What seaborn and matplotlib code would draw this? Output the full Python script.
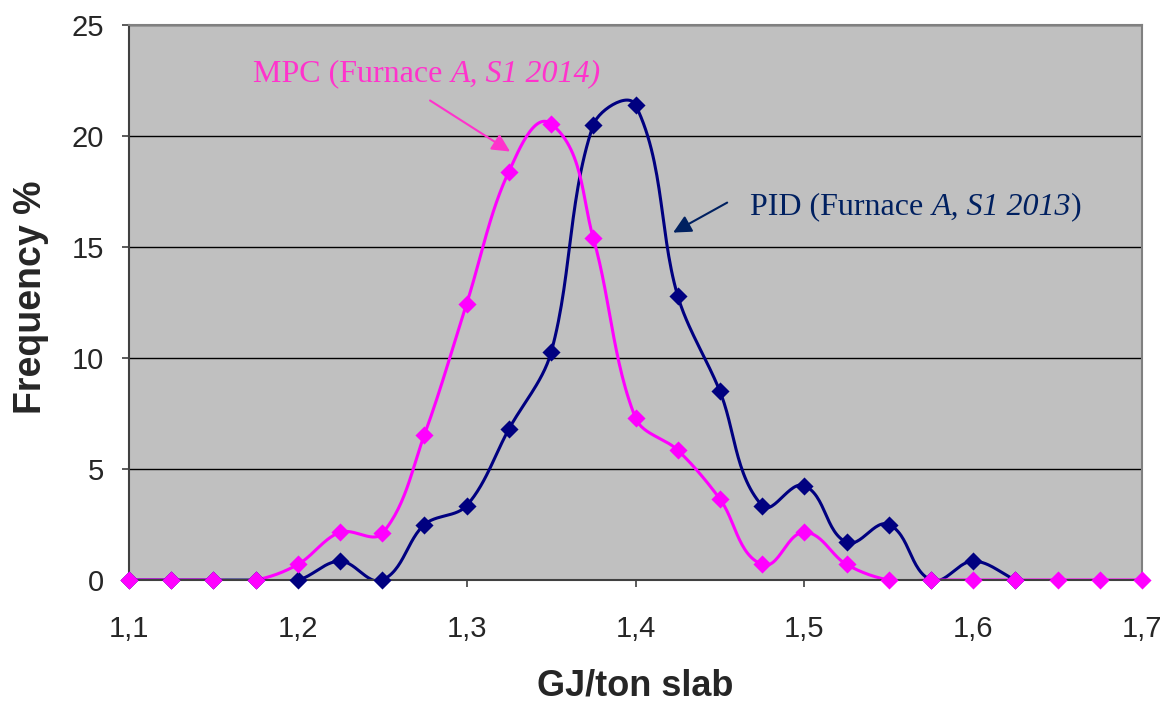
import numpy as np
import pandas as pd
import matplotlib
matplotlib.use('Agg')
import matplotlib.pyplot as plt
from matplotlib.ticker import FuncFormatter, MultipleLocator
import seaborn as sns

# Data (GJ/ton slab vs frequency %)
pid_x = [1.1, 1.125, 1.15, 1.175, 1.2, 1.225, 1.25, 1.275, 1.3, 1.325, 1.35, 1.375, 1.4,
         1.425, 1.45, 1.475, 1.5, 1.525, 1.55, 1.575, 1.6, 1.625]
pid_y = [0, 0, 0, 0, 0, 0.85, 0, 2.5, 3.35, 6.8, 10.25, 20.5, 21.4,
         12.8, 8.5, 3.35, 4.25, 1.7, 2.5, 0, 0.85, 0]

mpc_x = [1.1, 1.125, 1.15, 1.175, 1.2, 1.225, 1.25, 1.275, 1.3, 1.325, 1.35, 1.375, 1.4,
         1.425, 1.45, 1.475, 1.5, 1.525, 1.55, 1.575, 1.6, 1.625, 1.65, 1.675, 1.7]
mpc_y = [0, 0, 0, 0, 0.7, 2.15, 2.1, 6.55, 12.45, 18.4, 20.55, 15.4, 7.3,
         5.85, 3.65, 0.7, 2.15, 0.7, 0, 0, 0, 0, 0, 0, 0]

pid_color = '#000080'
mpc_color = '#FF00FF'
pid_text_color = '#002060'
mpc_text_color = '#FF33CC'

# pixels per data unit, used only to shape the smoothed line like Excel does
SX, SY = 1688.0, 22.2


# Excel style smoothed line: bezier segments, tangent length tied to segment length
def smooth(xs, ys, n=30):
    p = np.column_stack([np.array(xs) * SX, np.array(ys) * SY]).astype(float)
    p = np.vstack([p[0], p, p[-1]])
    out = []
    t = np.linspace(0, 1, n)[:, None]
    for i in range(1, len(p) - 2):
        p0, p3 = p[i], p[i + 1]
        seg = np.linalg.norm(p3 - p0) / 3
        d1 = p[i + 1] - p[i - 1]
        d2 = p[i + 2] - p[i]
        c1 = p0 + d1 / max(np.linalg.norm(d1), 1e-9) * seg
        c2 = p3 - d2 / max(np.linalg.norm(d2), 1e-9) * seg
        b = ((1 - t) ** 3) * p0 + 3 * ((1 - t) ** 2) * t * c1 + 3 * (1 - t) * t ** 2 * c2 + t ** 3 * p3
        out.append(b if i == 1 else b[1:])
    out = np.vstack(out)
    return pd.DataFrame({'x': out[:, 0] / SX, 'y': out[:, 1] / SY})


sns.set_style('white')
plt.rcParams['font.family'] = ['Liberation Sans', 'DejaVu Sans']

fig = plt.figure(figsize=(11.72, 7.05), dpi=100)
ax = fig.add_axes([129 / 1172, 1 - 580 / 705, 1013 / 1172, 555 / 705])
ax.set_facecolor('#C0C0C0')

for xs, ys, col in [(pid_x, pid_y, pid_color), (mpc_x, mpc_y, mpc_color)]:
    sm = smooth(xs, ys)
    sns.lineplot(data=sm, x='x', y='y', sort=False, estimator=None, color=col, lw=2.2, ax=ax)
    sns.scatterplot(x=xs, y=ys, marker='D', s=85, color=col, edgecolor=col, linewidth=0,
                    ax=ax, clip_on=False, zorder=5)

ax.set_xlim(1.1, 1.7)
ax.set_ylim(0, 25)
ax.xaxis.set_major_locator(MultipleLocator(0.1))
ax.yaxis.set_major_locator(MultipleLocator(5))
ax.xaxis.set_major_formatter(FuncFormatter(lambda v, p: ('%.1f' % v).replace('.', ',')))
ax.yaxis.set_major_formatter(FuncFormatter(lambda v, p: '%d' % v))
ax.yaxis.grid(True, color='black', lw=1)
ax.set_axisbelow(True)
for k, s in ax.spines.items():
    s.set_color('#404040' if k in ('left', 'bottom') else '#808080')
    s.set_linewidth(1.5)
ax.tick_params(axis='both', direction='out', length=5, width=1.2, color='#404040',
               labelsize=21, left=True, bottom=True)
ax.tick_params(axis='x', pad=20)
ax.tick_params(axis='y', pad=13)
ax.set_xlabel('')
ax.set_ylabel('')

fig.text(635 / 1172, 1 - 695 / 705, 'GJ/ton slab', fontsize=26, fontweight='bold',
         ha='center', va='baseline')
fig.text(31 / 1172, 1 - 297 / 705, 'Frequency %', fontsize=27, fontweight='bold',
         rotation=90, ha='center', va='center')

# Annotations with italic parts
serif = ['Liberation Serif', 'DejaVu Serif']


def rich_text(x, y, parts, color):
    fig.canvas.draw()
    r = fig.canvas.get_renderer()
    t = ax.text(x, y, parts[0][0], style=parts[0][1], color=color, fontsize=23,
                family=serif, va='center', ha='left')
    for txt, st in parts[1:]:
        bb = t.get_window_extent(renderer=r)
        t = ax.annotate(txt, xy=(bb.x1, (bb.y0 + bb.y1) / 2), xycoords='figure pixels',
                        style=st, color=color, fontsize=23, family=serif,
                        va='center', ha='left')


rich_text(1.1735, 22.8, [('MPC (Furnace ', 'normal'), ('A, S1 2014)', 'italic')], mpc_text_color)
rich_text(1.468, 16.8, [('PID (Furnace ', 'normal'), ('A, S1 2013', 'italic'), (')', 'normal')],
          pid_text_color)

arrow = '-|>,head_length=0.6,head_width=0.3'
ax.annotate('', xy=(1.3257, 19.3), xytext=(1.2783, 21.6),
            arrowprops=dict(arrowstyle=arrow, color=mpc_text_color, lw=1.5, mutation_scale=18,
                            shrinkA=0, shrinkB=0))
ax.annotate('', xy=(1.4223, 15.65), xytext=(1.4543, 17.0),
            arrowprops=dict(arrowstyle=arrow, color=pid_text_color, lw=1.5, mutation_scale=18,
                            shrinkA=0, shrinkB=0))

plt.savefig('out.png', dpi=100)
